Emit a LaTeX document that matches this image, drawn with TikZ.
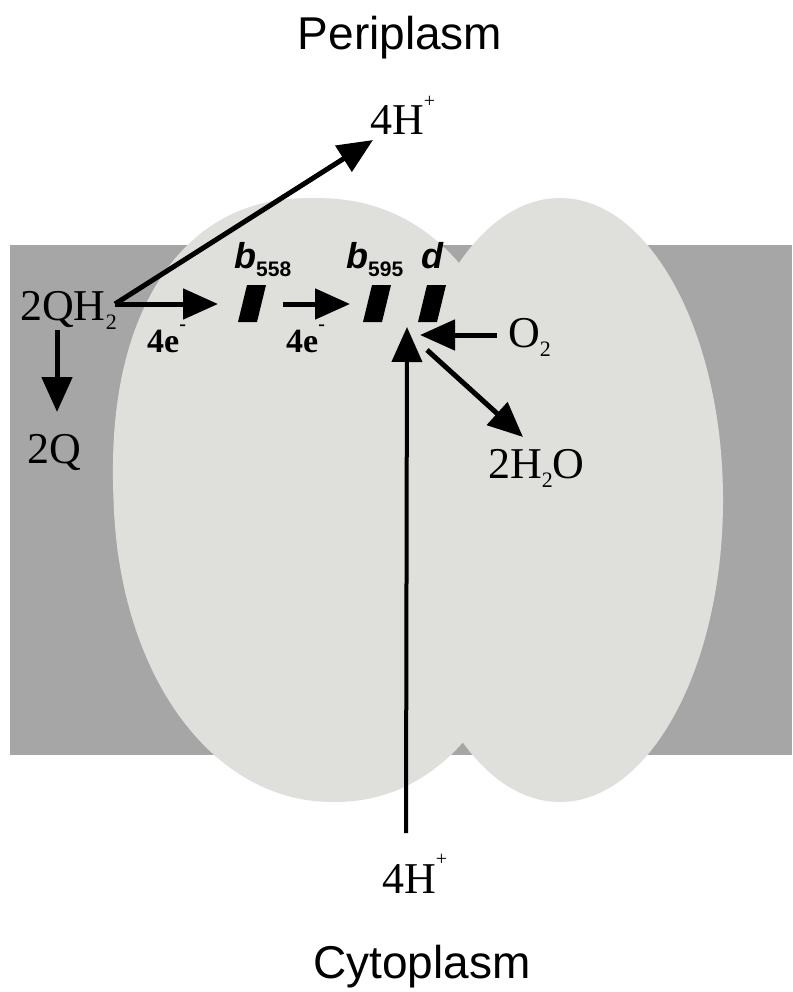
\documentclass[tikz,border=0pt]{standalone}
\usepackage{fontspec}
\setmainfont{Liberation Serif}
\setsansfont{Liberation Sans}
\usetikzlibrary{arrows.meta}

\definecolor{memb}{RGB}{166,166,166}
\definecolor{prot}{RGB}{223,223,220}

\newcommand{\chemlo}[1]{\raisebox{-0.22em}{\fontsize{22}{22}\selectfont #1}}
\newcommand{\chemhi}[1]{\raisebox{0.62em}{\fontsize{20}{20}\selectfont #1}}

\begin{document}
\begin{tikzpicture}[x=1pt, y=-1pt,
		lbl/.style={inner sep=0pt, anchor=base west, font=\fontsize{44}{48}\selectfont},
		side/.style={inner sep=0pt, anchor=base, font=\sffamily\fontsize{46}{50}\selectfont},
		elec/.style={inner sep=0pt, anchor=base west, font=\bfseries\fontsize{34}{36}\selectfont},
		cyt/.style={inner sep=0pt, anchor=base west, font=\sffamily\bfseries\itshape\fontsize{36}{38}\selectfont},
		flow/.style={line width=5pt, -{Triangle[length=35pt, width=30pt]}}]
		\fill[white] (0,0) rectangle (792,992);
		\useasboundingbox (0,0) rectangle (792,992);
		% membrane and protein
		\fill[memb] (10,245) rectangle (792,755);
		\fill[prot] plot[variable=\t, domain=0.5:179.5, samples=90]
			({323.5 - 10.6*pow(sin(\t),0.881) + 210*sign(cos(\t))*pow(abs(cos(\t)),0.881)},
			 {500 - 302*pow(sin(\t),0.881)})
			-- plot[variable=\t, domain=180.5:359.5, samples=90]
			({323.5 + 10.6*pow(abs(sin(\t)),0.952) + 210*sign(cos(\t))*pow(abs(cos(\t)),0.952)},
			 {500 + 302*pow(abs(sin(\t)),0.952)}) -- cycle;
		\fill[prot] (560,500) ellipse [x radius=163, y radius=302];
		% hemes
		\fill (238,322) -- (257,322) -- (266,285) -- (247,285) -- cycle;
		\fill (363,322) -- (382,322) -- (391,285) -- (372,285) -- cycle;
		\fill (418,322) -- (437,322) -- (446,285) -- (427,285) -- cycle;
		\node[cyt] (b1) at (234,268) {b\raisebox{-0.24em}{\upshape\fontsize{21}{21}\selectfont 558}};
		\node[cyt] (b2) at (346,268) {b\raisebox{-0.24em}{\upshape\fontsize{21}{21}\selectfont 595}};
		\node[cyt] (bd) at (421,268) {d};
		% labels
		\node[side] (peri) at (400,50) {Periplasm};
		\node[side] (cyto) at (422,978) {Cytoplasm};
		\node[lbl] (hout) at (370,135) {4H\chemhi{+}};
		\node[lbl] (qh) at (20,320) {2QH\chemlo{2}};
		\node[lbl] (q) at (27,463) {2Q};
		\node[elec] (e1) at (147,352) {4e\chemhi{-}};
		\node[elec] (e2) at (286,352) {4e\chemhi{-}};
		\node[lbl] (o2) at (508,347) {O\chemlo{2}};
		\node[lbl] (h2o) at (488,478) {2H\chemlo{2}O};
		\node[lbl] (hin) at (382,893) {4H\chemhi{+}};
		% arrow ends
		\coordinate (qhout) at (115,304);
		\coordinate (b1in) at (218,304);
		\coordinate (b1out) at (283,304);
		\coordinate (b2in) at (350,304);
		\coordinate (dsite) at (420,335);
		\coordinate (o2in) at (497,335);
		\coordinate (dout) at (427,350);
		\coordinate (h2oin) at (523,437);
		\coordinate (dup) at (407,327);
		\coordinate (hinup) at (406,833);
		\coordinate (qtop) at (57,330);
		\coordinate (qbot) at (57,412);
		\coordinate (houtin) at (373,140);
		\draw[flow] (qhout) -- (houtin);
		\draw[flow] (qhout) -- (b1in);
		\draw[flow] (b1out) -- (b2in);
		\draw[flow] (qtop) -- (qbot);
		\draw[flow] (o2in) -- (dsite);
		\draw[flow] (dout) -- (h2oin);
		\draw[flow, line width=4pt] (hinup) -- (dup);
		\end{tikzpicture}
\end{document}
